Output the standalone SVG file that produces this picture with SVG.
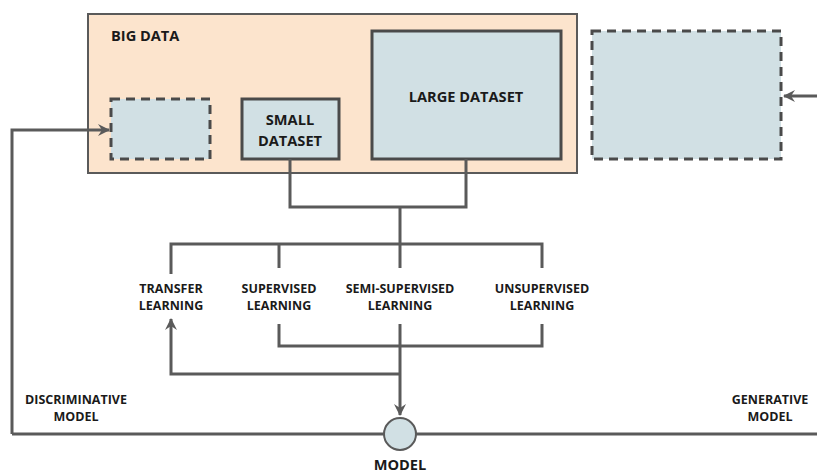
<svg xmlns="http://www.w3.org/2000/svg" width="817" height="473" viewBox="0 0 817 473">
<style>
text{font-family:"Open Sans","Liberation Sans",sans-serif;font-weight:bold;font-size:12.5px;fill:#1a1a1a;text-anchor:middle}
.big{font-size:14.6px}
.box{fill:#d1e0e4;stroke:#4a4a4a;stroke-width:3}
.dash{fill:#d1e0e4;stroke:#4a4a4a;stroke-width:3;stroke-dasharray:9 6}
.ln{fill:none;stroke:#5a5a5a;stroke-width:3}
</style>
<defs>
<marker id="ah" viewBox="0 0 12 12" refX="11" refY="6" markerWidth="12" markerHeight="12" markerUnits="userSpaceOnUse" orient="auto">
<path d="M0,0 L12,6 L0,12 L4,6 Z" fill="#5a5a5a"/>
</marker>
</defs>
<g id="bigdata">
<rect x="88" y="14" width="489" height="159" fill="#fce4cd" stroke="#5a5a5a" stroke-width="2"/>
<text class="big" x="111" y="41" style="text-anchor:start">BIG DATA</text>
</g>
<g id="placeholder-left"><rect class="dash" x="111" y="99" width="99" height="60"/></g>
<g id="small-dataset"><rect class="box" x="242" y="99" width="97" height="60"/>
<text class="big" x="290" y="125">SMALL</text><text class="big" x="290" y="146">DATASET</text></g>
<g id="large-dataset"><rect class="box" x="372" y="31" width="189" height="128"/>
<text class="big" x="466" y="102">LARGE DATASET</text></g>
<g id="placeholder-right"><rect class="dash" x="592" y="31" width="189" height="128"/></g>
<g id="transfer"><text x="171" y="293">TRANSFER</text><text x="171" y="310">LEARNING</text></g>
<g id="supervised"><text x="279" y="293">SUPERVISED</text><text x="279" y="310">LEARNING</text></g>
<g id="semi"><text x="400" y="293">SEMI-SUPERVISED</text><text x="400" y="310">LEARNING</text></g>
<g id="unsupervised"><text x="542" y="293">UNSUPERVISED</text><text x="542" y="310">LEARNING</text></g>
<g id="disc"><text x="76" y="404">DISCRIMINATIVE</text><text x="76" y="421">MODEL</text></g>
<g id="gen"><text x="770" y="404">GENERATIVE</text><text x="770" y="421">MODEL</text></g>
<g id="connectors">
<path class="ln" d="M290,159 V207 H466 V159"/>
<path class="ln" d="M400,207 V268"/>
<path class="ln" d="M171,274 V244 H542 V268"/>
<path class="ln" d="M279,244 V268"/>
<path class="ln" d="M279,324 V346 H542 V324"/>
<path class="ln" d="M400,324 V415" marker-end="url(#ah)"/>
<path class="ln" d="M400,374 H171 V319" marker-end="url(#ah)"/>
<path class="ln" d="M12,434 H817"/>
<path class="ln" d="M12,434 V130 H109" marker-end="url(#ah)"/>
<path class="ln" d="M817,96 H784" marker-end="url(#ah)"/>
</g>
<g id="model">
<circle cx="400" cy="434" r="16" fill="#d1e0e4" stroke="#5a5a5a" stroke-width="2"/>
<text class="big" x="400" y="470">MODEL</text>
</g>
</svg>
